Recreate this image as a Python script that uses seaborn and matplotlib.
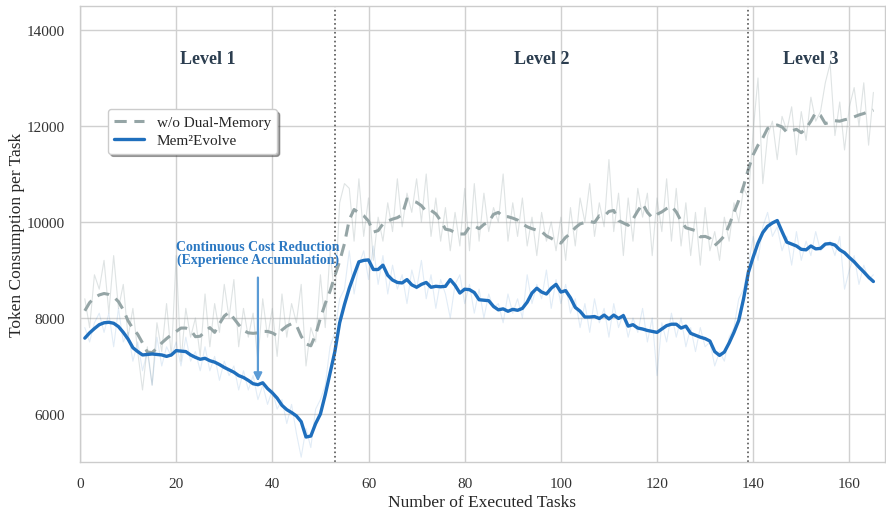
import numpy as np
import pandas as pd
import matplotlib
matplotlib.use("Agg")
import matplotlib.pyplot as plt
import seaborn as sns

tasks = list(range(1, 166))

mem_smooth = [
    7580, 7690, 7780, 7860, 7900, 7910, 7890, 7820, 7700, 7560,
    7380, 7300, 7230, 7240, 7250, 7240, 7230, 7200, 7230, 7320,
    7310, 7300, 7230, 7180, 7140, 7160, 7110, 7080, 7030, 6970,
    6920, 6870, 6800, 6760, 6700, 6630, 6610, 6650, 6530, 6440,
    6330, 6180, 6090, 6030, 5960, 5840, 5520, 5540, 5800, 6000,
    6400, 6850, 7300, 7900, 8280, 8620, 8900, 9170, 9200, 9210,
    9010, 9010, 9100, 8890, 8790, 8740, 8730, 8800, 8690, 8640,
    8700, 8740, 8640, 8660, 8650, 8660, 8800, 8680, 8520, 8600,
    8590, 8530, 8380, 8370, 8360, 8240, 8170, 8190, 8140, 8180,
    8160, 8200, 8330, 8520, 8620, 8540, 8500, 8620, 8700, 8540,
    8570, 8420, 8220, 8140, 8020, 8020, 8030, 7990, 8060, 7980,
    8060, 7990, 8050, 7830, 7860, 7790, 7770, 7740, 7720, 7700,
    7770, 7840, 7870, 7870, 7790, 7830, 7680, 7640, 7600, 7570,
    7520, 7300, 7220, 7290, 7480, 7700, 7950, 8400, 8950, 9270,
    9560, 9780, 9910, 9980, 10030, 9800, 9580, 9540, 9500, 9430,
    9420, 9500, 9440, 9450, 9540, 9550, 9520, 9420, 9360, 9260,
    9170, 9060, 8960, 8850, 8760,
]

base_smooth = [
    8150, 8320, 8420, 8480, 8510, 8490, 8440, 8340, 8170, 7940,
    7780, 7660, 7480, 7290, 7280, 7370, 7480, 7570, 7650, 7720,
    7790, 7790, 7750, 7610, 7620, 7720, 7800, 7700, 7880, 8040,
    8120, 7990, 7860, 7740, 7690, 7680, 7690, 7720, 7720, 7690,
    7630, 7750, 7830, 7880, 7850, 7620, 7460, 7420, 7650, 8000,
    8300, 8560, 8880, 9180, 9550, 10050, 10260, 10190, 10130, 10020,
    9790, 9820, 9960, 10020, 10060, 10090, 10150, 10480, 10440, 10410,
    10340, 10220, 10240, 10170, 10030, 9850, 9830, 9780, 9750, 9750,
    9900, 9920, 9860, 9950, 10000, 10160, 10200, 10110, 10110, 10080,
    10040, 9960, 9900, 9860, 9830, 9800, 9710, 9660, 9600, 9560,
    9680, 9760, 9880, 9960, 9990, 10010, 9990, 10130, 10120, 10220,
    10240, 10030, 9980, 9930, 10060, 10230, 10380, 10200, 10090, 10160,
    10210, 10280, 10330, 10210, 10020, 9880, 9850, 9820, 9690, 9700,
    9660, 9510, 9600, 9710, 9930, 10200, 10450, 10750, 11100, 11400,
    11600, 11750, 11950, 12000, 12020, 11980, 11870, 11900, 11930, 11860,
    11950, 12100, 12280, 12220, 12050, 12080, 12110, 12100, 12130, 12150,
    12190, 12230, 12260, 12300, 12330,
]

base_raw = [
    8400, 7800, 8900, 8600, 9200, 8100, 9300, 8200, 8700, 7600,
    8200, 7300, 6500, 7400, 6600, 7900, 7300, 8300, 7200, 9300,
    7100, 8200, 7600, 8000, 7200, 8500, 7400, 8300, 7700, 8700,
    8000, 8800, 7400, 8200, 7600, 8100, 7100, 8400, 7600, 8200,
    7200, 8500, 7600, 8300, 7900, 8700, 7000, 7800, 7500, 8900,
    7800, 9400, 8400, 10400, 10800, 10700, 9600, 10900, 9700, 10500,
    9200, 10100, 9600, 10400, 9800, 10900, 9900, 10600, 10200, 10900,
    10000, 11000, 9700, 10500, 9600, 10300, 9400, 10200, 9500, 10700,
    9400, 10800, 9600, 10600, 9800, 10300, 10000, 11000, 9600, 10400,
    9700, 10500, 9500, 10100, 9300, 10200, 9600, 10000, 9400, 10100,
    9200, 10300, 9500, 10500, 10000, 10800, 9700, 10400, 9900, 11300,
    9800, 10600, 9300, 10500, 9600, 10700, 10100, 10600, 9300, 10500,
    9800, 10900, 9600, 10700, 9500, 10400, 9300, 10200, 9100, 10300,
    9400, 9800, 9200, 10100, 9600, 10400, 10000, 10700, 10500, 11900,
    13000, 10800, 11800, 12100, 11300, 12200, 11900, 12400, 11400, 12300,
    11700, 12600, 12100, 12300, 12900, 13300, 11800, 12500, 11500, 12400,
    12800, 12000, 12900, 11600, 12700,
]

mem_raw = [
    7800, 7500, 7900, 8100, 7700, 8100, 7400, 8200, 7500, 7700,
    7100, 7500, 6900, 7300, 6600, 7600, 7000, 7400, 7200, 7500,
    7000, 7600, 7100, 7300, 6900, 7400, 6900, 7200, 6700, 7100,
    6800, 7000, 6500, 6900, 6500, 6800, 6300, 6600, 6200, 6500,
    6100, 6300, 5800, 6200, 5600, 5100, 5700, 5300, 6100, 6300,
    6600, 7400, 7700, 8400, 8600, 9400, 8500, 9100, 9400, 8800,
    9500, 8700, 9300, 8500, 9100, 8600, 8900, 8300, 9000, 8600,
    9200, 8400, 8900, 8200, 8800, 8500, 8000, 8700, 8900, 8300,
    8700, 8100, 8600, 8000, 8500, 8200, 8300, 7900, 8500, 8100,
    8400, 8000, 8900, 8300, 8700, 8400, 9000, 8200, 8800, 8300,
    8700, 8100, 8400, 7800, 8300, 7700, 8400, 7900, 8200, 7600,
    8300, 7800, 8100, 7600, 8000, 7700, 8200, 7500, 8000, 6800,
    7900, 7500, 8100, 7600, 8000, 7400, 7800, 7300, 7800, 7400,
    7500, 7000, 7300, 7100, 7600, 7800, 8400, 8600, 9100, 9700,
    9200, 9900, 10200, 9700, 9900, 9400, 9700, 9100, 9800, 9200,
    9600, 9300, 9800, 9400, 9500, 9600, 9300, 9700, 8600, 9000,
    9300, 8700, 9100, 8800, 8900,
]

level_names = ["Level 1", "Level 2", "Level 3"]
level_centers = [26.5, 96, 152]
level_bounds = [53, 139]

series_labels = ["w/o Dual-Memory", "Mem²Evolve"]
BLUE = "#1f6fbd"
GRAY = "#95a5a6"

df = pd.DataFrame({
    "task": tasks,
    "base_raw": base_raw,
    "mem_raw": mem_raw,
    "base_smooth": base_smooth,
    "mem_smooth": mem_smooth,
})

sns.set_theme(style="whitegrid")
plt.rcParams["font.family"] = ["Liberation Serif", "DejaVu Serif"]

fig = plt.figure(figsize=(8.86, 5.10), dpi=100)
ax = fig.add_axes([0.0903, 0.0922, 0.9085, 0.8941])

sns.lineplot(data=df, x="task", y="base_raw", ax=ax, color=GRAY, alpha=0.3, lw=0.8)
sns.lineplot(data=df, x="task", y="mem_raw", ax=ax, color=BLUE, alpha=0.13, lw=0.8)
sns.lineplot(data=df, x="task", y="base_smooth", ax=ax, color=GRAY, lw=2.2,
             linestyle=(0, (4, 2.5)), label=series_labels[0])
sns.lineplot(data=df, x="task", y="mem_smooth", ax=ax, color=BLUE, lw=2.4,
             label=series_labels[1])

for b in level_bounds:
    ax.axvline(b, color="#555555", linestyle=":", lw=1.2)

for name, c in zip(level_names, level_centers):
    ax.text(c, 13400, name, ha="center", va="center", fontsize=13,
            fontweight="bold", color="#2c3e50")

ax.annotate("", xy=(37, 6620), xytext=(37, 8900),
            arrowprops=dict(arrowstyle="-|>", color="#5b9bd5", lw=1.6,
                            mutation_scale=12))
ax.text(37, 9080, "Continuous Cost Reduction\n(Experience Accumulation)",
        ha="center", va="bottom", fontsize=10, fontweight="bold",
        color="#2b78c2", linespacing=1.0)

ax.set_xlim(0, 167.4)
ax.set_ylim(5000, 14500)
ax.set_xticks([0, 20, 40, 60, 80, 100, 120, 140, 160])
ax.set_yticks([6000, 8000, 10000, 12000, 14000])
ax.tick_params(labelsize=11, colors="#333333", pad=5)
ax.set_xlabel("Number of Executed Tasks", fontsize=12.5, labelpad=3)
ax.set_ylabel("Token Consumption per Task", fontsize=12.5, labelpad=1)
ax.grid(True, color="#d0d0d0", lw=1.0)
for s in ax.spines.values():
    s.set_color("#cccccc")
    s.set_linewidth(1.0)

leg = ax.legend(loc="upper left", bbox_to_anchor=(0.025, 0.79), fontsize=11,
                frameon=True, shadow=True, fancybox=True, framealpha=1.0,
                handlelength=2.0, borderpad=0.4, labelspacing=0.3)
leg.get_frame().set_edgecolor("#cccccc")

fig.savefig("out.png", dpi=100)
